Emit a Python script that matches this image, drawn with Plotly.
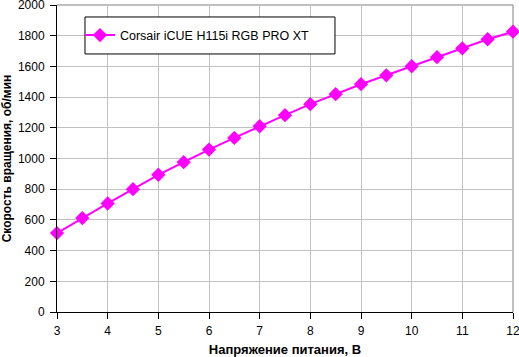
import plotly.graph_objects as go

voltage = [3, 3.5, 4, 4.5, 5, 5.5, 6, 6.5, 7, 7.5, 8, 8.5, 9, 9.5, 10, 10.5, 11, 11.5, 12]
rpm = [514, 612, 707, 800, 894, 976, 1058, 1134, 1210, 1282, 1354, 1419, 1484, 1542, 1601, 1660, 1718, 1777, 1826]
series_name = "Corsair iCUE H115i RGB PRO XT"
x_title = "Напряжение питания, В"
y_title = "Скорость вращения, об/мин"

fig = go.Figure()
fig.add_trace(go.Scatter(
    x=voltage, y=rpm, name=series_name, mode="lines+markers",
    line=dict(color="#ff00ff", width=2),
    marker=dict(symbol="diamond", size=11, color="#ff00ff"),
    cliponaxis=False,
))

font = "Liberation Sans, Arial, sans-serif"
fig.update_layout(
    width=519, height=357,
    margin=dict(l=57, r=6, t=5, b=45, autoexpand=False),
    paper_bgcolor="white", plot_bgcolor="white",
    font=dict(family=font, size=12, color="black"),
    showlegend=True,
    legend=dict(x=0.0504, y=0.9007, xanchor="left", yanchor="middle",
                borderwidth=0, bgcolor="rgba(0,0,0,0)",
                font=dict(size=12.5), itemwidth=30, tracegroupgap=0),
    xaxis=dict(range=[3, 12], dtick=1, tick0=3, showgrid=True, gridcolor="#c0c0c0", gridwidth=1,
               showline=True, linecolor="black", linewidth=1, mirror=False,
               ticks="outside", ticklen=6, tickcolor="black", ticklabelstandoff=2,
               zeroline=False, automargin=False, ticklabeloverflow="allow",
               title=dict(text="<b>" + x_title + "</b>", font=dict(size=13), standoff=7)),
    yaxis=dict(range=[0, 2000], dtick=200, showgrid=True, gridcolor="#c0c0c0", gridwidth=1,
               showline=True, linecolor="black", linewidth=1,
               ticks="outside", ticklen=6, tickcolor="black", ticklabelstandoff=3,
               zeroline=False, automargin=False, ticklabeloverflow="allow",
               title=dict(text="<b>" + y_title + "</b>", font=dict(size=12), standoff=4)),
)
fig.add_shape(type="line", xref="paper", yref="paper", x0=0, y0=1, x1=1, y1=1,
              line=dict(color="#808080", width=1), layer="below")
fig.add_shape(type="line", xref="paper", yref="paper", x0=1, y0=0, x1=1, y1=1,
              line=dict(color="#808080", width=1), layer="below")
# legend frame
fig.add_shape(type="rect", xref="paper", yref="paper", x0=0.0614, x1=0.6096, y0=0.8405, y1=0.961,
              line=dict(color="black", width=1), fillcolor="white", layer="above")

fig.write_html("out.html", config={"displayModeBar": False})
with open("out.html", encoding="utf-8") as f:
    html = f.read()
html = html.replace("<head>", "<head><style>html,body{margin:0;padding:0;overflow:hidden}</style>", 1)
with open("out.html", "w", encoding="utf-8") as f:
    f.write(html)
